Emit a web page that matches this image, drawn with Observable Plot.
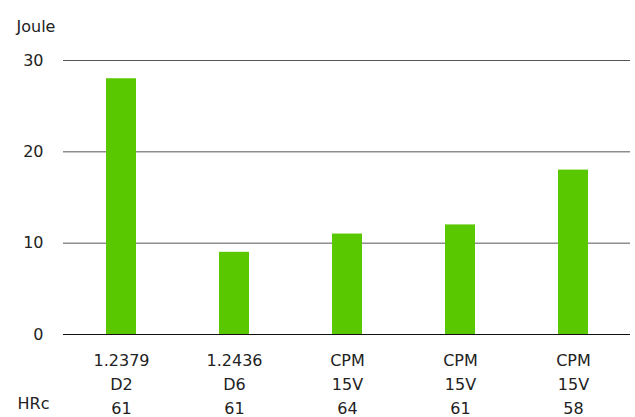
<!DOCTYPE html>
<html>
<head>
<meta charset="utf-8">
<script src="https://cdn.jsdelivr.net/npm/d3@7"></script>
<script src="https://cdn.jsdelivr.net/npm/@observablehq/plot@0.6"></script>
<style>
  html, body { margin: 0; padding: 0; background: #fff; }
</style>
</head>
<body>
<div id="chart"></div>
<script>
const materials = ["1.2379", "1.2436", "CPM", "CPM", "CPM"];
const grades = ["D2", "D6", "15V", "15V", "15V"];
const hardness = ["61", "61", "64", "61", "58"];
const joules = [28, 9, 11, 12, 18];
const yTicks = [0, 10, 20, 30];
const yLabel = "Joule";
const rowLabel = "HRc";

const data = materials.map((m, i) => ({
  key: `${m}\n${grades[i]}\n${hardness[i]}`,
  value: joules[i]
}));

const chart = Plot.plot({
  width: 635,
  height: 417,
  marginLeft: 63,
  marginRight: 5,
  marginTop: 60,
  marginBottom: 83,
  style: { fontFamily: "'DejaVu Sans', sans-serif", fontSize: "16px", color: "#222", background: "#fff" },
  x: { domain: data.map(d => d.key), paddingInner: 0.735, paddingOuter: 0.3675, label: null },
  y: { domain: [0, 30], label: null },
  marks: [
    Plot.ruleY(yTicks.filter(t => t > 0), { stroke: "#555", strokeWidth: 1 }),
    Plot.barY(data, { x: "key", y: "value", fill: "#5ac800" }),
    Plot.ruleY([0], { stroke: "#111", strokeWidth: 1.2 }),
    Plot.axisY({ ticks: yTicks, tickSize: 0, tickPadding: 20, fontSize: 16, label: null }),
    Plot.axisX({ tickSize: 0, tickPadding: 15, fontSize: 16, lineHeight: 1.48, lineAnchor: "top", label: null }),
    Plot.text([yLabel], { frameAnchor: "top-left", dx: -47, dy: -40, textAnchor: "start", fontSize: 16 }),
    Plot.text([rowLabel], { frameAnchor: "bottom-left", dx: -46, dy: 74, textAnchor: "start", fontSize: 16 })
  ]
});
document.getElementById("chart").appendChild(chart);
</script>
</body>
</html>
